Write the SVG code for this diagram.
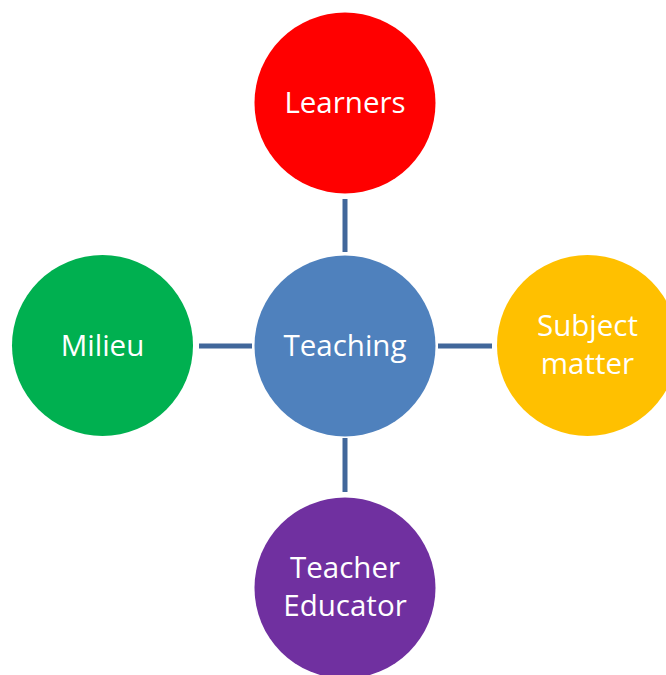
<svg xmlns="http://www.w3.org/2000/svg" width="666" height="675" viewBox="0 0 666 675">
<style>
text{font-family:"Open Sans","Liberation Sans",sans-serif;font-size:29.5px;fill:#fff;text-anchor:middle}
.c line{stroke:#41679B;stroke-width:5}
</style>
<rect width="666" height="675" fill="#fff"/>
<g class="c" id="connectors">
<line x1="345" y1="199" x2="345" y2="252"/>
<line x1="199" y1="346" x2="252" y2="346"/>
<line x1="438" y1="346" x2="492" y2="346"/>
<line x1="345" y1="438" x2="345" y2="492"/>
</g>
<g id="learners"><circle cx="345" cy="103" r="90.5" fill="#FF0000"/><text x="345" y="113">Learners</text></g>
<g id="teaching"><circle cx="345" cy="346" r="90.5" fill="#4F81BD"/><text x="345" y="356">Teaching</text></g>
<g id="milieu"><circle cx="102.5" cy="345.5" r="90.5" fill="#00B050"/><text x="102.5" y="356">Milieu</text></g>
<g id="subject"><circle cx="587.5" cy="345.5" r="90.5" fill="#FFC000"/><text x="587.5" y="336">Subject</text><text x="587.5" y="374">matter</text></g>
<g id="educator"><circle cx="345" cy="588" r="90.5" fill="#7030A0"/><text x="345" y="578">Teacher</text><text x="345" y="616">Educator</text></g>
</svg>
